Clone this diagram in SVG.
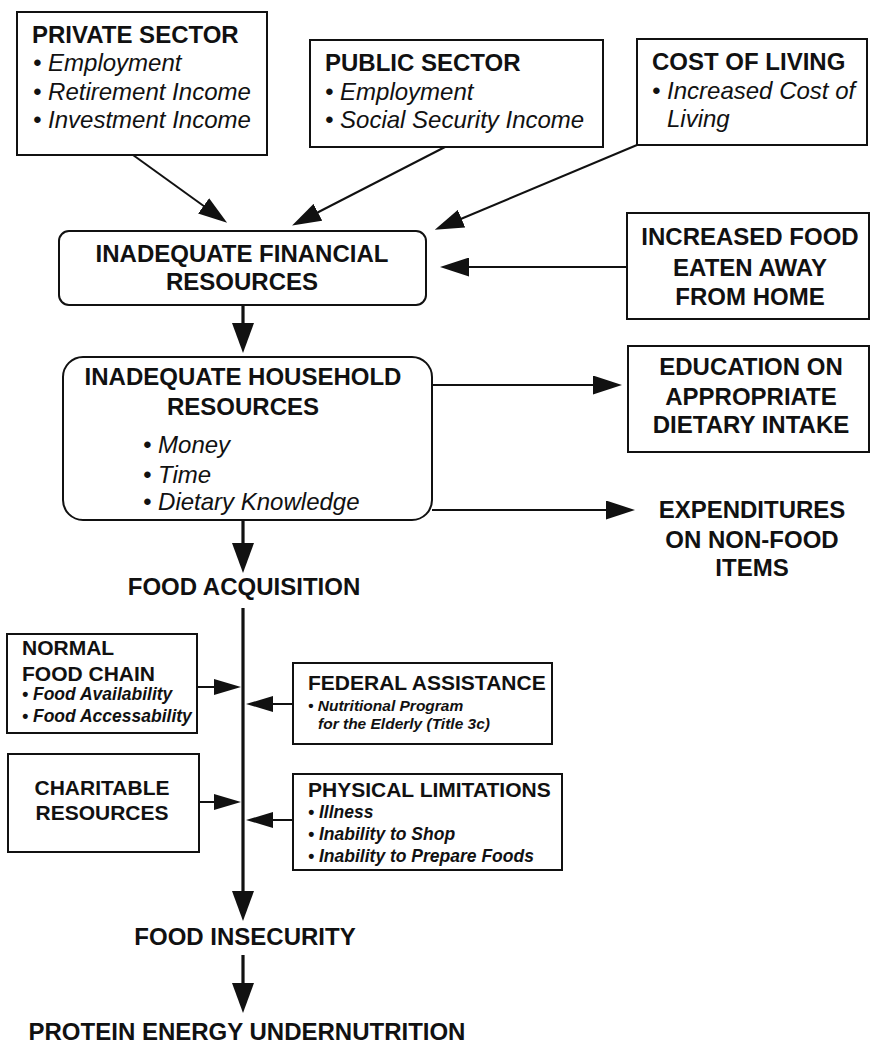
<svg xmlns="http://www.w3.org/2000/svg" width="871" height="1044" viewBox="0 0 871 1044">
<defs>
<style>
text{font-family:"Liberation Sans",Arial,Helvetica,sans-serif;fill:#111}
.t{font-size:24px;font-weight:bold}
.tc{font-size:24px;font-weight:bold;text-anchor:middle}
.i{font-size:24px;font-style:italic}
.st{font-size:21px;font-weight:bold}
.stc{font-size:21px;font-weight:bold;text-anchor:middle}
.si{font-size:17.5px;font-weight:bold;font-style:italic}
.xi{font-size:15.5px;font-weight:bold;font-style:italic}
.box{fill:#fff;stroke:#111;stroke-width:2}
.ln{fill:none;stroke:#111;stroke-width:2}
.th{fill:none;stroke:#111;stroke-width:3.2}
</style>
<marker id="ah" markerUnits="userSpaceOnUse" markerWidth="29" markerHeight="19" viewBox="0 0 29 19" refX="19" refY="9.5" orient="auto"><path d="M0,0 L29,9.5 L0,19 z" fill="#111"/></marker>
<marker id="big" markerUnits="userSpaceOnUse" markerWidth="30" markerHeight="22" viewBox="0 0 30 22" refX="20" refY="11" orient="auto"><path d="M0,0 L30,11 L0,22 z" fill="#111"/></marker>
<marker id="sm" markerUnits="userSpaceOnUse" markerWidth="27" markerHeight="16" viewBox="0 0 27 16" refX="17" refY="8" orient="auto"><path d="M0,0 L27,8 L0,16 z" fill="#111"/></marker>
</defs>
<rect width="871" height="1044" fill="#fff"/>

<g id="connectors">
<line class="ln" x1="133" y1="155" x2="219" y2="217" marker-end="url(#ah)"/>
<line class="ln" x1="445" y1="147" x2="301" y2="221" marker-end="url(#ah)"/>
<line class="ln" x1="637" y1="145" x2="444" y2="226" marker-end="url(#ah)"/>
<line class="ln" x1="627" y1="267" x2="450" y2="267" marker-end="url(#ah)"/>
<line class="th" x1="243" y1="305" x2="243" y2="343" marker-end="url(#big)"/>
<line class="ln" x1="432" y1="385" x2="612" y2="385" marker-end="url(#ah)"/>
<line class="ln" x1="432" y1="510" x2="625" y2="510" marker-end="url(#ah)"/>
<line class="th" x1="243" y1="520" x2="243" y2="563" marker-end="url(#big)"/>
<line class="th" x1="243" y1="608" x2="243" y2="911" marker-end="url(#big)"/>
<line class="th" x1="243" y1="955" x2="243" y2="1003" marker-end="url(#big)"/>
<line class="ln" x1="197" y1="687" x2="231" y2="687" marker-end="url(#sm)"/>
<line class="ln" x1="199" y1="802" x2="231" y2="802" marker-end="url(#sm)"/>
<line class="ln" x1="293" y1="704" x2="256" y2="704" marker-end="url(#sm)"/>
<line class="ln" x1="293" y1="820" x2="256" y2="820" marker-end="url(#sm)"/>
</g>

<g id="private-sector">
<rect class="box" x="17" y="12" width="250" height="143"/>
<text class="t" x="32" y="43">PRIVATE SECTOR</text>
<text class="i" x="33" y="71">• Employment</text>
<text class="i" x="33" y="100">• Retirement Income</text>
<text class="i" x="33" y="128">• Investment Income</text>
</g>

<g id="public-sector">
<rect class="box" x="310" y="40" width="293" height="107"/>
<text class="t" x="325" y="71">PUBLIC SECTOR</text>
<text class="i" x="325" y="100">• Employment</text>
<text class="i" x="325" y="128">• Social Security Income</text>
</g>

<g id="cost-of-living">
<rect class="box" x="637" y="39" width="230" height="106"/>
<text class="t" x="652" y="70">COST OF LIVING</text>
<text class="i" x="652" y="99">• Increased Cost of</text>
<text class="i" x="667" y="127">Living</text>
</g>

<g id="financial-resources">
<rect class="box" x="59" y="231" width="367" height="74" rx="10"/>
<text class="tc" x="242" y="262">INADEQUATE FINANCIAL</text>
<text class="tc" x="242" y="290">RESOURCES</text>
</g>

<g id="food-away">
<rect class="box" x="627" y="213" width="242" height="106"/>
<text class="tc" x="750" y="245">INCREASED FOOD</text>
<text class="tc" x="750" y="276">EATEN AWAY</text>
<text class="tc" x="750" y="305">FROM HOME</text>
</g>

<g id="household-resources">
<rect class="box" x="63" y="357" width="369" height="163" rx="20"/>
<text class="tc" x="243" y="385">INADEQUATE HOUSEHOLD</text>
<text class="tc" x="243" y="415">RESOURCES</text>
<text class="i" x="143" y="453">• Money</text>
<text class="i" x="143" y="483">• Time</text>
<text class="i" x="143" y="510">• Dietary Knowledge</text>
</g>

<g id="education">
<rect class="box" x="628" y="346" width="241" height="106"/>
<text class="tc" x="751" y="375">EDUCATION ON</text>
<text class="tc" x="751" y="405">APPROPRIATE</text>
<text class="tc" x="751" y="433">DIETARY INTAKE</text>
</g>

<g id="expenditures">
<text class="tc" x="752" y="518">EXPENDITURES</text>
<text class="tc" x="752" y="548">ON NON-FOOD</text>
<text class="tc" x="752" y="576">ITEMS</text>
</g>

<g id="food-acquisition">
<text class="tc" x="244" y="595">FOOD ACQUISITION</text>
</g>

<g id="normal-food-chain">
<rect class="box" x="7" y="634" width="190" height="99"/>
<text class="st" x="22" y="655">NORMAL</text>
<text class="st" x="22" y="681">FOOD CHAIN</text>
<text class="si" x="22" y="700">• Food Availability</text>
<text class="si" x="22" y="722">• Food Accessability</text>
</g>

<g id="charitable-resources">
<rect class="box" x="8" y="754" width="191" height="98"/>
<text class="stc" x="102" y="795">CHARITABLE</text>
<text class="stc" x="102" y="820">RESOURCES</text>
</g>

<g id="federal-assistance">
<rect class="box" x="293" y="663" width="259" height="81"/>
<text class="st" x="308" y="690">FEDERAL ASSISTANCE</text>
<text class="xi" x="308" y="711">• Nutritional Program</text>
<text class="xi" x="318" y="729">for the Elderly (Title 3c)</text>
</g>

<g id="physical-limitations">
<rect class="box" x="293" y="774" width="269" height="96"/>
<text class="st" x="308" y="797">PHYSICAL LIMITATIONS</text>
<text class="si" x="308" y="818">• Illness</text>
<text class="si" x="308" y="840">• Inability to Shop</text>
<text class="si" x="308" y="862">• Inability to Prepare Foods</text>
</g>

<g id="food-insecurity">
<text class="tc" x="245" y="945">FOOD INSECURITY</text>
</g>

<g id="protein-energy-undernutrition">
<text class="tc" x="247" y="1040">PROTEIN ENERGY UNDERNUTRITION</text>
</g>
</svg>
